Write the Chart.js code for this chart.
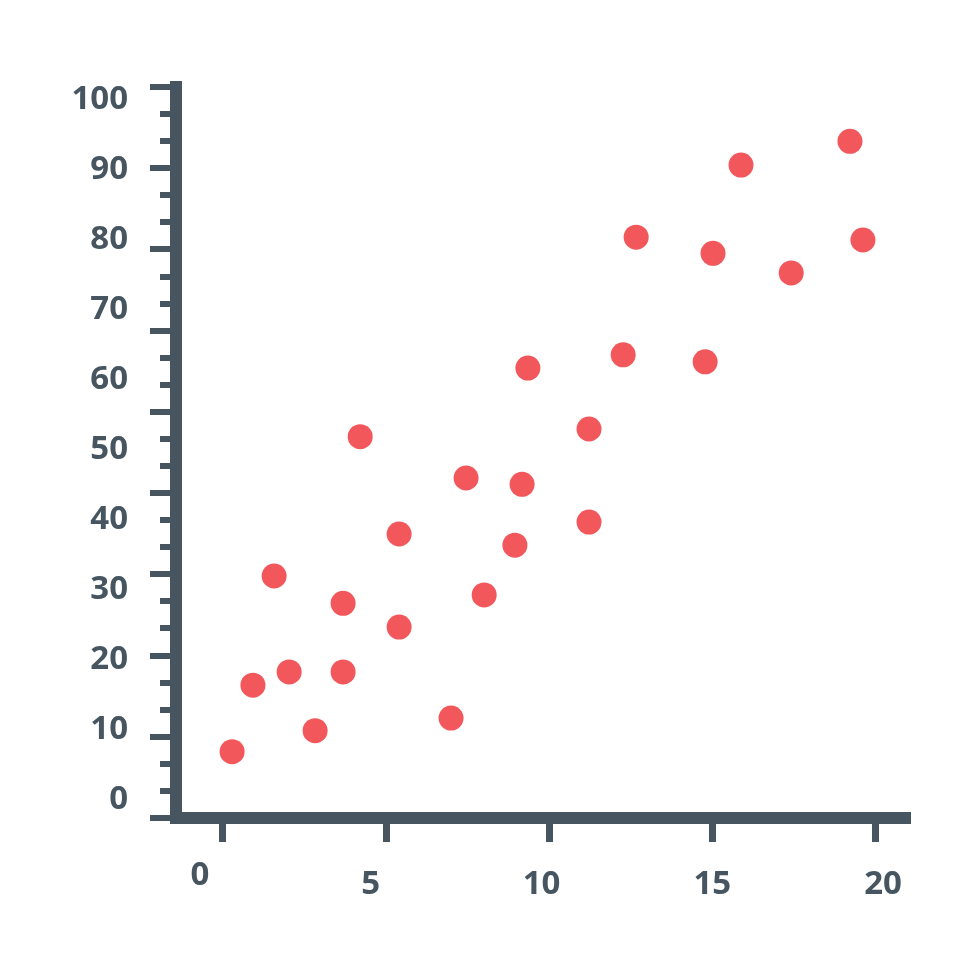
<!DOCTYPE html>
<html>
<head>
  <title>Scatter plot</title>
  <script src="https://cdn.jsdelivr.net/npm/chart.js"></script>
  <style>
    html, body {
      margin: 0;
      padding: 0;
      background: #ffffff;
      overflow: hidden;
    }
    canvas {
      display: block;
    }
  </style>
</head>
<body>
  <canvas id="scatterChart" width="980" height="980"></canvas>

  <script>
    // point values
    const xValues = [0.94, 1.55, 2.17, 2.61, 3.37, 4.19, 4.19, 4.69, 5.83, 5.83, 7.35, 7.79, 8.32,
                     9.22, 9.43, 9.60, 11.39, 11.39, 12.39, 12.77, 14.79, 15.02, 15.84, 17.31, 19.03, 19.41];
    const yValues = [6.9, 16.4, 32.0, 18.3, 9.9, 28.1, 18.3, 51.9, 38.0, 24.7, 11.7, 46.0, 29.3,
                     36.4, 45.1, 61.7, 53.0, 39.7, 63.6, 80.4, 62.6, 78.1, 90.7, 75.3, 94.1, 80.0];

    // tick labels
    const xTickStep = 5;   // 0, 5, 10, 15, 20
    const yTickStep = 10;  // 0 .. 100

    const axisColor = '#46555f';
    const dotColor = '#f2575b';
    const labelFont = { family: "'Open Sans', sans-serif", size: 33, weight: 'bold' };

    const points = xValues.map((x, i) => ({ x: x, y: yValues[i] }));

    const ctx = document.getElementById('scatterChart').getContext('2d');

    new Chart(ctx, {
      type: 'scatter',
      data: {
        datasets: [{
          data: points,
          xAxisID: 'x',
          yAxisID: 'y',
          backgroundColor: dotColor,
          borderWidth: 0,
          pointRadius: 12.5,
          pointHoverRadius: 12.5
        }]
      },
      options: {
        responsive: false,
        animation: false,
        events: [],
        clip: false,
        layout: {
          padding: { left: 0, top: 87, right: 73, bottom: 38 }
        },
        plugins: {
          legend: { display: false },
          tooltip: { enabled: false }
        },
        scales: {
          // value axis with the labels 0..100
          y: {
            type: 'linear',
            position: 'left',
            weight: 2,
            min: -2.571,
            max: 101.857,
            grid: { display: false, drawTicks: false },
            border: { display: false },
            ticks: {
              stepSize: yTickStep,
              includeBounds: false,
              padding: 22,
              color: axisColor,
              font: labelFont
            },
            afterFit: scale => { scale.width = 150; }
          },
          // long ruler marks
          yMajor: {
            type: 'linear',
            position: 'left',
            weight: 1,
            min: 0,
            max: 27,
            ticks: { display: false, stepSize: 3, maxTicksLimit: 100 },
            grid: {
              drawOnChartArea: false,
              drawTicks: true,
              tickLength: 10,
              tickWidth: 6,
              lineWidth: 6,
              tickColor: axisColor,
              color: axisColor
            },
            border: { display: false },
            afterFit: scale => { scale.width = 10; }
          },
          // short ruler marks + the vertical bar
          yMinor: {
            type: 'linear',
            position: 'left',
            weight: 0,
            min: 0,
            max: 27,
            ticks: { display: false, stepSize: 1, maxTicksLimit: 100 },
            grid: {
              drawOnChartArea: false,
              drawTicks: true,
              tickLength: 16,
              tickWidth: 6,
              lineWidth: 6,
              tickColor: axisColor,
              color: axisColor
            },
            border: { display: true, color: axisColor, width: 12 },
            afterFit: scale => { scale.width = 16; }
          },
          // bottom bar with its marks
          xTicks: {
            type: 'linear',
            position: 'bottom',
            weight: 0,
            min: -1.4395,
            max: 20.95,
            ticks: { display: false, stepSize: xTickStep, includeBounds: false },
            grid: {
              drawOnChartArea: false,
              drawTicks: true,
              tickLength: 24,
              tickWidth: 7,
              lineWidth: 7,
              tickColor: axisColor,
              color: axisColor
            },
            border: { display: true, color: axisColor, width: 12 },
            afterFit: scale => { scale.height = 24; }
          },
          // value axis with the labels 0..20
          x: {
            type: 'linear',
            position: 'bottom',
            weight: 1,
            min: -0.703,
            max: 20.70,
            grid: { display: false, drawTicks: false },
            border: { display: false },
            ticks: {
              stepSize: xTickStep,
              includeBounds: false,
              padding: 23,
              maxRotation: 0,
              color: axisColor,
              font: c => ({
                family: labelFont.family,
                size: labelFont.size,
                weight: labelFont.weight,
                lineHeight: (c.tick && c.tick.value === 0) ? 0.65 : 1.2
              })
            },
            afterFit: scale => { scale.height = 100; }
          }
        }
      }
    });
  </script>
</body>
</html>
